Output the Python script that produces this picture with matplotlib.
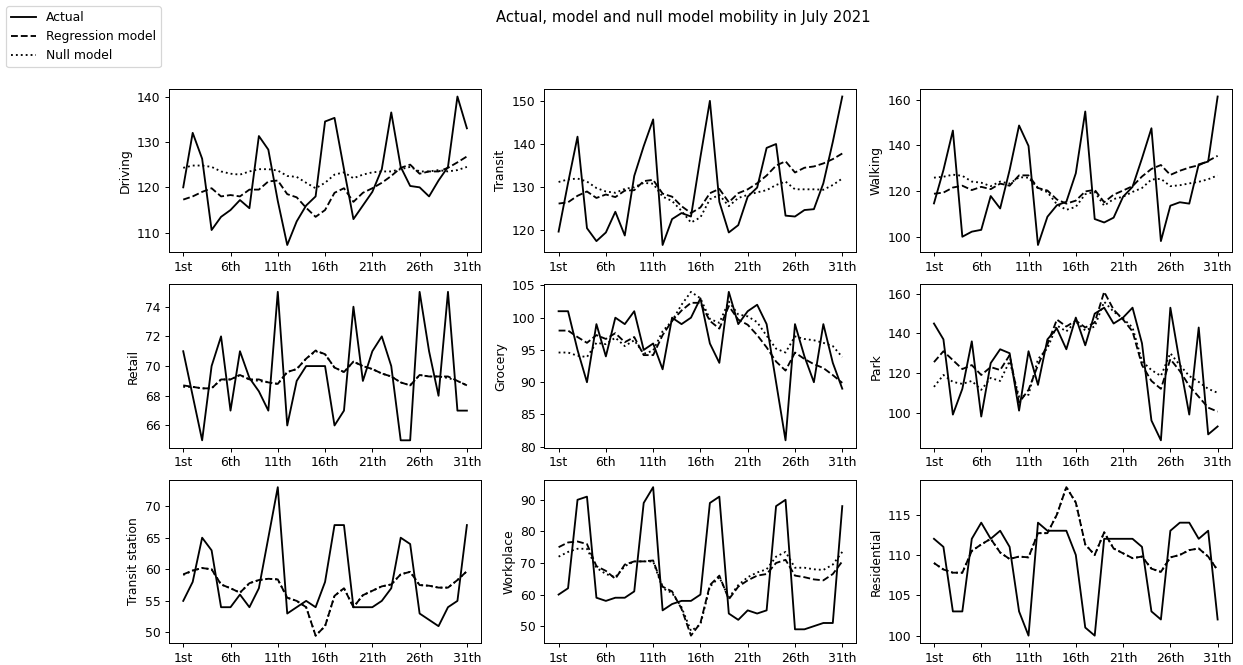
import numpy as np
import matplotlib
matplotlib.use("Agg")
import matplotlib.pyplot as plt

days = list(range(1, 32))
tick_days = [1, 6, 11, 16, 21, 26, 31]
tick_labels = ["1st", "6th", "11th", "16th", "21th", "26th", "31th"]

panel_names = ["Driving", "Transit", "Walking",
               "Retail", "Grocery", "Park",
               "Transit station", "Workplace", "Residential"]

driving_actual = [120, 132, 126.3, 110.6, 113.5, 115, 117.2, 115.4, 131.3, 128.3, 117,
                  107.3, 112.5, 116, 118, 134.5, 135.3, 124, 113, 116, 119,
                  124, 136.5, 124.5, 120.3, 120, 118, 121.5, 124.5, 140, 133]
driving_model = [117.3, 118, 119, 119.8, 118, 118.3, 118, 119.5, 119.5, 121.3, 121.5,
                 118.5, 117.8, 115.5, 113.5, 115, 118.8, 119.8, 116.8, 118.8, 119.8,
                 121, 122.5, 124.3, 125, 123, 123.5, 123.5, 124.3, 125.5, 126.8]
driving_null = [124.3, 124.8, 124.8, 124.5, 123.5, 123, 122.8, 123.5, 124, 124, 123.7,
                122.5, 122.3, 121, 119.8, 121, 122.8, 123.3, 122, 122.8, 123.3,
                123.5, 123.5, 124, 124.5, 123.5, 123.5, 123.8, 123.5, 123.8, 124.5]

transit_actual = [119.7, 131, 141.7, 120.5, 117.5, 119.5, 124.3, 118.8, 132.6, 139.5, 145.7,
                  116.6, 122.6, 124, 123.2, 137, 150, 126.6, 119.5, 121.2, 127.8,
                  129.9, 139.1, 140, 123.4, 123.2, 124.7, 124.9, 130.9, 140.5, 151]
transit_model = [126.2, 126.5, 128, 129, 127.5, 128.3, 127.7, 129.2, 129.3, 131.4, 131.7,
                 128.5, 127.8, 125.6, 124, 125.3, 128.6, 129.6, 126.5, 128.6, 129.5,
                 130.9, 132.7, 135, 136, 133.4, 134.5, 134.8, 135.5, 136.5, 137.8]
transit_null = [131.2, 131.8, 132, 131.3, 129.8, 129, 128.7, 129.6, 130, 131, 130.8,
                127.8, 126.8, 124.5, 121.8, 123, 127.2, 128.2, 125.6, 127.5, 128.2,
                128.8, 129.3, 130.5, 131.3, 129.5, 129.5, 129.5, 129.4, 130.5, 132]

walking_actual = [114.8, 129.3, 146.5, 100.3, 102.5, 103.3, 118, 112.6, 129.3, 148.7, 139.8,
                  96.7, 109, 114, 115.5, 127.9, 154.8, 108, 106.5, 108.6, 117.7,
                  122, 134.4, 147.5, 98.4, 113.8, 115.3, 114.7, 131.8, 133, 161.3]
walking_model = [119, 119.5, 121.7, 122.5, 120.6, 122, 121, 123.4, 122.5, 127, 127,
                 121.5, 120.4, 116.5, 114.7, 116, 120, 120.7, 115.3, 118.6, 120.4,
                 122.3, 126.5, 129.8, 131.5, 127.2, 129, 130.4, 131.4, 133.3, 135.5]
walking_null = [126, 126.4, 127.3, 126.8, 124.3, 123.8, 122.3, 124.3, 123.4, 126.2, 126,
                121.3, 119.7, 114.4, 112, 113.3, 118.8, 119.8, 113.8, 116.7, 117.7,
                119.8, 121.5, 125.2, 125.5, 122.3, 122.7, 123.5, 124.2, 125.3, 127]

retail_actual = [71, 68, 65, 70, 72, 67, 71, 69.2, 68.3, 67, 75,
                 66, 69, 70, 70, 70, 66, 67, 74, 69, 71,
                 72, 70, 65, 65, 75, 71, 68, 75, 67, 67]
retail_model = [68.7, 68.6, 68.5, 68.5, 69.1, 69.1, 69.4, 69.1, 69.1, 68.9, 68.8,
                69.6, 69.8, 70.5, 71.05, 70.8, 69.9, 69.6, 70.3, 70.0, 69.8,
                69.5, 69.3, 68.9, 68.7, 69.4, 69.3, 69.3, 69.3, 69.0, 68.7]
retail_null = [68.6, 68.6, 68.5, 68.5, 69.1, 69.1, 69.4, 69.1, 69.0, 68.9, 68.8,
               69.6, 69.8, 70.5, 71.0, 70.8, 69.9, 69.6, 70.3, 70.0, 69.8,
               69.5, 69.3, 68.9, 68.7, 69.4, 69.3, 69.3, 69.2, 69.0, 68.7]

grocery_actual = [101, 101, 95, 90, 99, 94, 100, 99, 101, 95, 96,
                  92, 100, 99, 100, 103, 96, 93, 104, 99, 101,
                  102, 99, 90, 81, 99, 94, 90, 99, 93, 89]
grocery_model = [98, 98, 97, 96.1, 97.3, 96.7, 97.6, 96.2, 97, 94.2, 94.2,
                 97.3, 99.5, 101.1, 102.3, 102.3, 99.5, 98.3, 101.8, 99.7, 98.9,
                 97.3, 95.4, 93.2, 91.8, 94.6, 93.6, 92.8, 92.2, 91.1, 89.9]
grocery_null = [94.6, 94.6, 94.1, 93.9, 96.1, 95.9, 96.9, 95.6, 96.5, 94.4, 94.9,
                97.9, 99.5, 102, 104, 103, 99.8, 99.2, 102.5, 100.5, 100.2,
                99.3, 97.2, 95.2, 94.6, 97.1, 96.7, 96.5, 96.1, 95.6, 93.9]

park_actual = [145, 137, 99, 112, 136, 98, 125, 132, 130, 101, 131,
               114, 137, 142.5, 132, 148, 134, 150, 153, 145, 148,
               153, 135, 96, 86, 153, 125, 99, 143, 89, 93]
park_model = [125.5, 131, 126.5, 122, 124, 119, 123, 121.5, 129, 105, 111.5,
              124, 134.5, 147, 143.5, 146.5, 143, 145.5, 161, 152, 147,
              141, 124, 116, 112, 127, 121, 113.5, 108, 102.5, 100.5]
park_null = [113, 119, 115.5, 114.5, 116, 111.5, 117.5, 116, 126, 108, 109,
             127, 132.5, 144, 141, 146, 141.5, 143.5, 156, 151, 147.5,
             143, 126, 121.5, 118.5, 130, 124, 118.5, 115.5, 112, 110]

station_actual = [55, 58, 65, 63, 54, 54, 56, 54, 57, 65, 73,
                  53, 54, 55, 54, 58, 67, 67, 54, 54, 54,
                  55, 57, 65, 64, 53, 52, 51, 54, 55, 67]
station_model = [59.2, 59.8, 60.2, 60, 57.6, 57, 56.3, 57.8, 58.3, 58.5, 58.4,
                 55.5, 55, 54, 49.5, 51, 55.8, 57, 54, 55.9, 56.6,
                 57.3, 57.6, 59.2, 59.6, 57.5, 57.4, 57.1, 57.1, 58.3, 59.7]
station_null = [59.1, 59.8, 60.2, 60, 57.6, 57, 56.3, 57.8, 58.3, 58.5, 58.4,
                55.5, 55, 54, 49.5, 51, 55.8, 57, 54, 55.9, 56.6,
                57.3, 57.6, 59.2, 59.6, 57.5, 57.4, 57.1, 57.1, 58.3, 59.7]

workplace_actual = [60, 62, 90, 91, 59, 58, 59, 59, 61, 89, 94,
                    55, 57, 58, 58, 60, 89, 91, 54, 52, 55,
                    54, 55, 88, 90, 49, 49, 50, 51, 51, 88]
workplace_model = [75, 76.5, 76.8, 76, 69, 67.5, 65, 69.5, 70.5, 70.5, 70.8,
                   62.5, 61, 55.5, 47, 51, 63, 66, 58.5, 62.5, 64.5,
                   66, 66.5, 70, 71, 66, 65.5, 64.8, 64.5, 66.5, 70.5]
workplace_null = [72, 73.5, 74.5, 74.5, 68.5, 66.5, 65.5, 69, 70.5, 70.5, 70.5,
                  62, 60.5, 56, 48.5, 50.5, 62.5, 65.5, 59, 63, 65.5,
                  67, 68, 72, 73.5, 68.5, 68.5, 68, 67.8, 69.5, 73.5]

residential_actual = [112, 111, 103, 103, 112, 114, 112, 113, 111, 103, 100,
                      114, 113, 113, 113, 110, 101, 100, 112, 112, 112,
                      112, 111, 103, 102, 113, 114, 114, 112, 113, 102]
residential_model = [109, 108.2, 107.8, 107.8, 110.5, 111.3, 112, 110.3, 109.5, 109.8, 109.7,
                     112.7, 112.7, 115, 118.4, 116.5, 111.3, 110, 112.8, 110.8, 110.2,
                     109.6, 109.8, 108.3, 107.9, 109.7, 110, 110.6, 110.8, 109.8, 108.1]
residential_null = [109, 108.2, 107.8, 107.8, 110.5, 111.3, 112, 110.3, 109.5, 109.8, 109.7,
                    112.7, 112.7, 115, 118.4, 116.5, 111.3, 110, 112.8, 110.8, 110.2,
                    109.6, 109.8, 108.3, 107.9, 109.7, 110, 110.6, 110.8, 109.8, 108.1]

actual = [driving_actual, transit_actual, walking_actual, retail_actual, grocery_actual,
          park_actual, station_actual, workplace_actual, residential_actual]
model = [driving_model, transit_model, walking_model, retail_model, grocery_model,
         park_model, station_model, workplace_model, residential_model]
null = [driving_null, transit_null, walking_null, retail_null, grocery_null,
        park_null, station_null, workplace_null, residential_null]

DPI = 88.8
fig, axes = plt.subplots(3, 3, figsize=(1243 / DPI, 665 / DPI), dpi=DPI)
fig.subplots_adjust(left=0.136, right=0.991, top=0.866, bottom=0.033,
                    wspace=0.203, hspace=0.196)

for ax, name, a, m, n in zip(axes.flat, panel_names, actual, model, null):
    ax.plot(days, a, color="black", linestyle="-", label="Actual")
    ax.plot(days, m, color="black", linestyle="--", label="Regression model")
    ax.plot(days, n, color="black", linestyle=":", label="Null model")
    ax.set_ylabel(name)
    ax.set_xticks(tick_days)
    ax.set_xticklabels(tick_labels)

handles, labels = axes[0, 0].get_legend_handles_labels()
fig.legend(handles, labels, loc="upper left", bbox_to_anchor=(0.0, 1.0))
fig.suptitle("Actual, model and null model mobility in July 2021", x=0.55, y=0.985)

fig.savefig("out.png", dpi=DPI)
